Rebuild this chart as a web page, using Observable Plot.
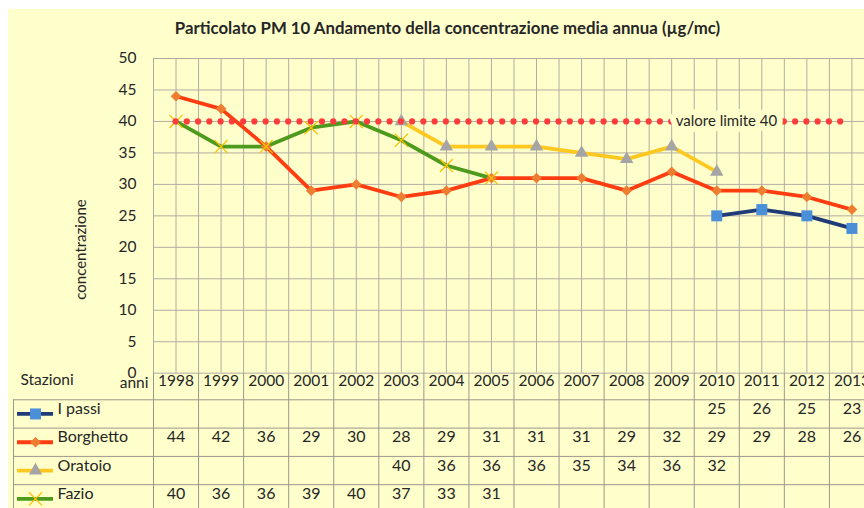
<!DOCTYPE html>
<html><head><meta charset="utf-8">
<script src="https://cdn.jsdelivr.net/npm/d3@7"></script>
<script src="https://cdn.jsdelivr.net/npm/@observablehq/plot@0.6"></script>
<style>
html,body{margin:0;padding:0;background:#fff;overflow:hidden;}
#chart{width:864px;height:508px;overflow:hidden;
  background:linear-gradient(#fff 0 9px, transparent 9px), linear-gradient(90deg, #fff 0 8px, #FFFFCC 8px);}
#chart svg{display:block;}
</style></head><body><div id="chart"></div>
<script>
// ---- data ----
const years = [1998,1999,2000,2001,2002,2003,2004,2005,2006,2007,2008,2009,2010,2011,2012,2013];
const iPassi    = [null,null,null,null,null,null,null,null,null,null,null,null,25,26,25,23];
const borghetto = [44,42,36,29,30,28,29,31,31,31,29,32,29,29,28,26];
const oratoio   = [null,null,null,null,null,40,36,36,36,35,34,36,32,null,null,null];
const fazio     = [40,36,36,39,40,37,33,31,null,null,null,null,null,null,null,null];
const stations  = ["I passi","Borghetto","Oratoio","Fazio"];
const yTicks    = [0,5,10,15,20,25,30,35,40,45,50];
const limitValue = 40;
const limitLabel = "valore limite 40";
const titleText = "Particolato PM 10 Andamento della concentrazione media annua (µg/mc)";
const yLabel = "concentrazione";
const stationsHeader = "Stazioni";
const yearsHeader = "anni";

// ---- styles / layout ----
const W = 864, H = 508;
const mL = 153, mT = 58, frameBottom = 372.7;
const colW = 45.06;
const gridColor = "#B2ACA3", tableColor = "#9C968D";
const textColor = "#262626";
const look = {
  "I passi":   {line:"#1F3B78", fill:"#4A8FD8", stroke:"none", symbol:"square",   r:6.2},
  "Borghetto": {line:"#FF3D10", fill:"#ED7D31", stroke:"none", symbol:"diamond2", r:4.8},
  "Oratoio":   {line:"#FFC820", fill:"#A5A5A5", stroke:"none", symbol:"triangle", r:5},
  "Fazio":     {line:"#4E9A1C", fill:"none",   stroke:"#FFC000", symbol:"times",  r:6}
};
const seriesValues = {"I passi": iPassi, "Borghetto": borghetto, "Oratoio": oratoio, "Fazio": fazio};
const rows = stations.map(name => ({name, data: years.map((year, j) => ({year, value: seriesValues[name][j]}))}));

const headerH = 26.6, rowH = 28.3;
const rowCenters = stations.map((_, i) => headerH + rowH * i + rowH / 2);
const rowLines = stations.map((_, i) => headerH + rowH * i);

const boundaries = d3.range(0, years.length + 1).map(i => years[0] - 0.5 + i);
const halfLines = d3.range(0, 2 * years.length + 1).map(i => years[0] - 0.5 + i / 2);

const marks = [
  // plot grid
  Plot.ruleX(halfLines, {stroke: gridColor, strokeWidth: 1}),
  Plot.ruleY(yTicks, {stroke: gridColor, strokeWidth: 1}),
  // table vertical lines
  Plot.ruleX(boundaries, {y1: 0, y2: 0, insetBottom: -(H - frameBottom + 5), stroke: tableColor, strokeWidth: 1}),
  // table left border
  Plot.ruleX([boundaries[0]], {y1: 0, y2: 0, dx: 13 - mL, insetTop: headerH, insetBottom: -(H - frameBottom + 5), stroke: tableColor}),
  // table horizontal lines
  ...rowLines.map(off => Plot.ruleY([0], {dy: off, insetLeft: -(mL - 13), stroke: tableColor, strokeWidth: 1})),
  // series lines and markers
  ...rows.map(r => Plot.line(r.data, {x: "year", y: "value", stroke: look[r.name].line, strokeWidth: 3.8, strokeLinejoin: "round"})),
  ...rows.map(r => Plot.dot(r.data.filter(d => d.value != null), {x: "year", y: "value", symbol: look[r.name].symbol, r: look[r.name].r, fill: look[r.name].fill, stroke: look[r.name].stroke, strokeWidth: 1.3})),
  // limit line
  Plot.ruleY([limitValue], {x1: years[0], x2: years[years.length - 1], stroke: "#FF3B3B", strokeWidth: 6.2, strokeDasharray: "0 11.265", strokeLinecap: "round"}),
  Plot.text([limitLabel], {x: 2009, y: limitValue, dx: 4, textAnchor: "start", fontSize: 15, fill: textColor, stroke: "#FFFFCC", strokeWidth: 12, paintOrder: "stroke"}),
  // y axis
  Plot.axisY({ticks: yTicks, tickSize: 0, tickPadding: mL - 136, fontSize: 15.5, label: null, fill: textColor}),
  Plot.text([yLabel], {frameAnchor: "bottom-left", dx: 85 - mL, dy: 249 - frameBottom, rotate: -90, textAnchor: "middle", fontSize: 15, fill: textColor}),
  // title
  Plot.text([titleText], {frameAnchor: "top-left", dx: 447 - mL, dy: 22 - mT, textAnchor: "middle", fontSize: 16.8, fontWeight: "bold", fill: textColor}),
  // table header
  Plot.text(years, {x: d => d, frameAnchor: "bottom", dy: 12.5, text: d => String(d), fontSize: 15.5, fill: textColor}),
  Plot.text([stationsHeader], {frameAnchor: "bottom-left", dx: 20 - mL, dy: 12, textAnchor: "start", fontSize: 15.5, fill: textColor}),
  Plot.text([yearsHeader], {frameAnchor: "bottom-left", dx: -5, dy: 14.5, textAnchor: "end", fontSize: 15.5, fill: textColor}),
  // table rows: legend swatch, name, values
  ...rows.flatMap((r, i) => [
    Plot.ruleY([0], {dy: rowCenters[i], insetLeft: -(mL - 17), insetRight: W - 53, stroke: look[r.name].line, strokeWidth: 3.8}),
    Plot.dot([0], {frameAnchor: "bottom-left", dx: 35 - mL, dy: rowCenters[i], symbol: look[r.name].symbol, r: look[r.name].r, fill: look[r.name].fill, stroke: look[r.name].stroke, strokeWidth: 1.3}),
    Plot.text([r.name], {frameAnchor: "bottom-left", dx: 57 - mL, dy: rowCenters[i], textAnchor: "start", fontSize: 16, fill: textColor}),
    Plot.text(r.data.filter(d => d.value != null), {x: "year", text: d => String(d.value), frameAnchor: "bottom", dy: rowCenters[i], fontSize: 16, fill: textColor})
  ])
];

const chart = Plot.plot({
  width: W, height: H,
  marginLeft: mL, marginTop: mT, marginRight: 0, marginBottom: H - frameBottom,
  x: {domain: [years[0] - 0.5, years[years.length - 1] + 0.5], range: [mL, mL + colW * years.length], axis: null},
  y: {domain: [0, 50], axis: null},
  style: {background: "transparent", fontFamily: "Lato, 'Open Sans', sans-serif", fontSize: "16px", color: textColor, overflow: "hidden"},
  marks
});
document.getElementById("chart").appendChild(chart);
</script></body></html>
